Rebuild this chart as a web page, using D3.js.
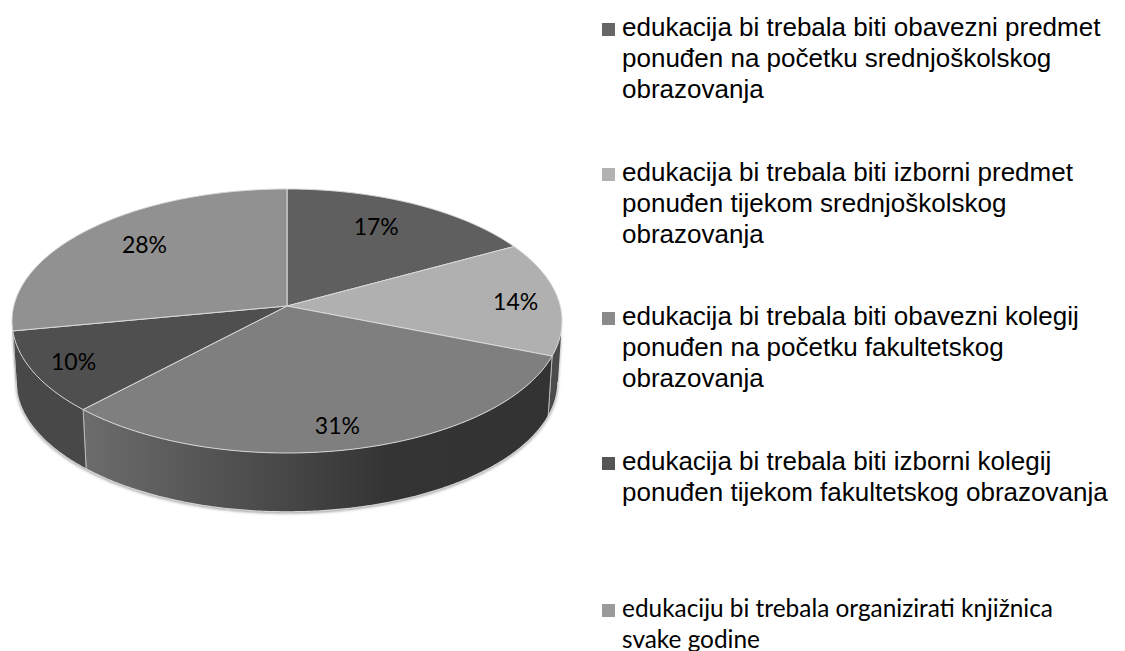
<!DOCTYPE html>
<html>
<head>
<meta charset="utf-8">
<script src="https://cdn.jsdelivr.net/npm/d3@7/dist/d3.min.js"></script>
<style>
html,body{margin:0;padding:0;background:#fff;overflow:hidden}
svg{display:block}
</style>
</head>
<body>
<svg id="chart" width="1125" height="651"></svg>
<script>
const values = [17,14,31,10,28];
const labels = ['17%','14%','31%','10%','28%'];
const topColors = ['#5f5f5f','#b0b0b0','#7f7f7f','#4f4f4f','#919191'];
const legendColors = ['#666666','#b2b2b2','#8a8a8a','#555555','#9a9a9a'];
const legendLines = [
	['edukacija bi trebala biti obavezni predmet','ponuđen na početku srednjoškolskog','obrazovanja'],
	['edukacija bi trebala biti izborni predmet','ponuđen tijekom srednjoškolskog','obrazovanja'],
	['edukacija bi trebala biti obavezni kolegij','ponuđen na početku fakultetskog','obrazovanja'],
	['edukacija bi trebala biti izborni kolegij','ponuđen tijekom fakultetskog obrazovanja'],
	['edukaciju bi trebala organizirati knjižnica','svake godine']
];

const svg = d3.select('#chart');
const defs = svg.append('defs');

// tilted disc: circle seen in perspective, apex sits above the ellipse centre
const cx = 287, cy = 306;
const rx = 273.2, ry = 130.3, k = 0.1136;
const depth = 61, shrink = 0.985;

function project(angle,r){
	const u = Math.sin(angle)*r;
	const v = -Math.cos(angle)*r;
	const w = 1-k*v;
	return [cx+rx*u/w, cy+ry*v/w];
}
function projectBottom(angle){
	const p = project(angle,1);
	return [cx+(p[0]-cx)*shrink, cy+depth+(p[1]-cy)*shrink];
}
function arcPoints(a0,a1,fn){
	const n = Math.max(2,Math.ceil(Math.abs(a1-a0)/0.01));
	return d3.range(n+1).map(i=>fn(a0+(a1-a0)*i/n));
}
const line = d3.line();

const pie = d3.pie().sort(null)(values);
const frontStart = Math.acos(-k);
const frontEnd = 2*Math.PI-frontStart;

// gradient for the long front wall
const grad = defs.append('linearGradient')
	.attr('id','wall31')
	.attr('gradientUnits','userSpaceOnUse')
	.attr('x1',86).attr('x2',548).attr('y1',0).attr('y2',0);
[[0,'#6c6c6c'],[0.25,'#565656'],[0.5,'#414141'],[0.65,'#343434'],[1,'#333333']].forEach(s=>{
	grad.append('stop').attr('offset',s[0]).attr('stop-color',s[1]);
});
const wallFill = [null,'#4b4b4b','url(#wall31)','#484848','#484848'];

const blur = defs.append('filter').attr('id','soft')
	.attr('x','-5%').attr('y','-5%').attr('width','110%').attr('height','110%');
blur.append('feGaussianBlur').attr('stdDeviation',1.6);

// soft shadow under the wall
const outline = arcPoints(frontStart,frontEnd,a=>project(a,1))
	.concat(arcPoints(frontEnd,frontStart,projectBottom));
svg.append('path')
	.attr('d',line(outline)+'Z')
	.attr('transform','translate(0,1.5)')
	.attr('fill','#9a9a9a')
	.attr('filter','url(#soft)');

// walls
const walls = svg.append('g');
pie.forEach((d,i)=>{
	const a0 = Math.max(d.startAngle,frontStart);
	const a1 = Math.min(d.endAngle,frontEnd);
	if(a1<=a0) return;
	const pts = arcPoints(a0,a1,a=>project(a,1))
		.concat(arcPoints(a1,a0,projectBottom));
	walls.append('path')
		.attr('d',line(pts)+'Z')
		.attr('fill',wallFill[i]);
	// seams between the wall pieces
	[d.startAngle,d.endAngle].forEach(a=>{
		if(a>frontStart && a<frontEnd){
			walls.append('path')
				.attr('d',line([project(a,1),projectBottom(a)]))
				.attr('stroke','#b8b8b8')
				.attr('stroke-width',1)
				.attr('fill','none');
		}
	});
});
svg.append('path')
	.attr('d',line(arcPoints(frontStart,frontEnd,projectBottom)))
	.attr('fill','none')
	.attr('stroke','#d4d4d4')
	.attr('stroke-width',1.2);

// top of the disc
svg.append('g').selectAll('path')
	.data(pie)
	.join('path')
		.attr('d',d=>{
			const pts = [[cx,cy]].concat(arcPoints(d.startAngle,d.endAngle,a=>project(a,1)));
			return line(pts)+'Z';
		})
		.attr('fill',(d,i)=>topColors[i])
		.attr('stroke','#d9d9d9')
		.attr('stroke-width',1)
		.attr('stroke-linejoin','round');

// value labels, radial distance and angle nudge picked per slice
const labelRadius = [0.74,0.84,0.85,0.85,0.74];
const labelNudge = [-0.04,0.03,0.022,0,0.04];
const labelPos = (d,i)=>project((d.startAngle+d.endAngle)/2+labelNudge[i],labelRadius[i]);
svg.append('g').selectAll('text')
	.data(pie)
	.join('text')
		.attr('x',(d,i)=>labelPos(d,i)[0])
		.attr('y',(d,i)=>labelPos(d,i)[1])
		.attr('dy','0.35em')
		.attr('text-anchor','middle')
		.attr('font-family',"Lato, 'Noto Sans', sans-serif")
		.attr('font-size',23)
		.attr('fill','#000')
		.text((d,i)=>labels[i]);

// legend
const blockTop = [36,181,325,470,617];
const legend = svg.append('g');
legendLines.forEach((lines,i)=>{
	const last = i==legendLines.length-1;
	legend.append('rect')
		.attr('x',602).attr('y',blockTop[i]-13)
		.attr('width',13).attr('height',13)
		.attr('fill',legendColors[i]);
	lines.forEach((t,j)=>{
		legend.append('text')
			.attr('x',622)
			.attr('y',blockTop[i]+j*(last?30.5:30.8))
			.attr('font-family',last?"Lato, sans-serif":"'Liberation Sans', Arial, sans-serif")
			.attr('font-size',last?24.4:26)
			.attr('fill','#000')
			.text(t);
	});
});
</script>
</body>
</html>
